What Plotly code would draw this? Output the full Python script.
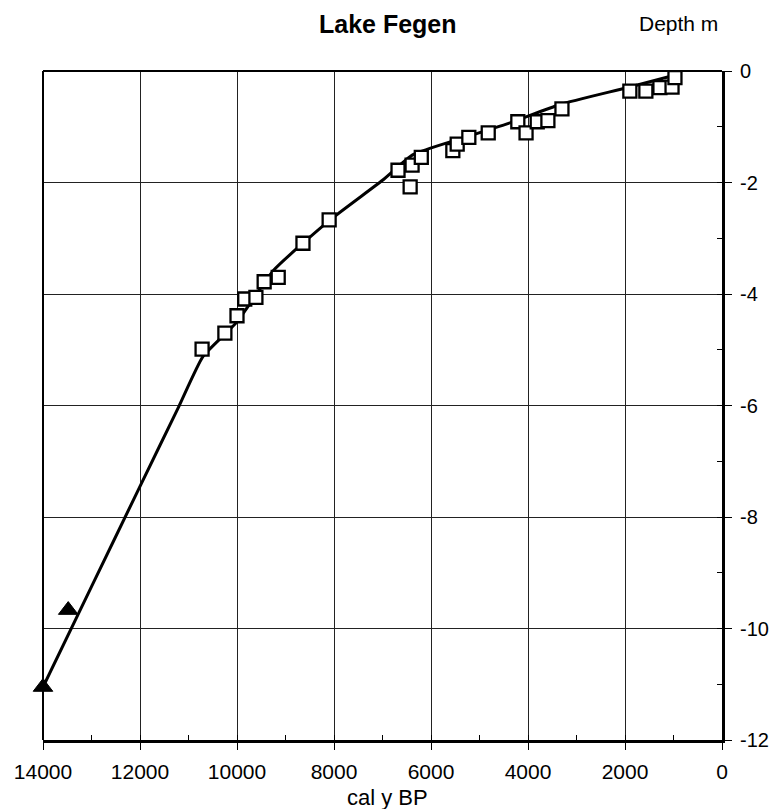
import plotly.graph_objects as go

# ---- data ----
sq_age = [10720, 10250, 10000, 9840, 9610, 9440, 9150, 8640, 8100, 6680, 6430, 6390,
          6200, 5550, 5460, 5220, 4820, 4210, 4040, 3810, 3590, 3300, 1900, 1570,
          1280, 1030, 970]
sq_depth = [-4.99, -4.70, -4.39, -4.09, -4.06, -3.78, -3.70, -3.09, -2.67, -1.78, -2.08,
            -1.69, -1.55, -1.43, -1.31, -1.19, -1.11, -0.91, -1.11, -0.91, -0.89, -0.68,
            -0.36, -0.36, -0.30, -0.29, -0.12]

tri_age = [14000, 13480]
tri_depth = [-11.05, -9.67]

model_age = [14000, 13000, 12000, 11200, 10700, 10000, 9240, 8080, 7000, 6370, 5340,
             4370, 3340, 1960, 1000]
model_depth = [-11.05, -9.25, -7.45, -6.02, -5.12, -4.50, -3.57, -2.67, -1.96, -1.50,
               -1.20, -0.93, -0.60, -0.30, -0.08]

x_ticks = [14000, 12000, 10000, 8000, 6000, 4000, 2000, 0]
x_ticktext = ["14000", "12000", "10000", "8000", "6000", "4000", "2000", "0"]
y_ticks = [0, -2, -4, -6, -8, -10, -12]
y_ticktext = ["0", "-2", "-4", "-6", "-8", "-10", "-12"]

FONT = "Liberation Sans, Arial, sans-serif"

fig = go.Figure()
fig.add_trace(go.Scatter(x=model_age, y=model_depth, mode="lines",
                         line=dict(color="black", width=3, shape="spline", smoothing=0.5),
                         showlegend=False, hoverinfo="skip"))
fig.add_trace(go.Scatter(x=sq_age, y=sq_depth, mode="markers",
                         marker=dict(symbol="square", size=13, color="white",
                                     line=dict(color="black", width=2.3)),
                         showlegend=False, cliponaxis=False))
fig.add_trace(go.Scatter(x=tri_age, y=tri_depth, mode="markers",
                         marker=dict(symbol="triangle-up", size=17, color="black",
                                     line=dict(color="black", width=1)),
                         showlegend=False, cliponaxis=False))

fig.update_layout(
    width=773, height=809,
    margin=dict(l=43, r=51, t=71, b=69),
    paper_bgcolor="white", plot_bgcolor="white",
    font=dict(family=FONT, color="black", size=21),
    xaxis=dict(range=[14000, 0], tickvals=x_ticks, ticktext=x_ticktext,
               showgrid=True, gridcolor="#222", gridwidth=1,
               showline=True, linecolor="black", linewidth=3,
               ticks="outside", ticklen=7, tickwidth=1.2, tickcolor="black",
               minor=dict(dtick=1000, tick0=0, ticks="inside", ticklen=5,
                          tickcolor="black", tickwidth=1.2, showgrid=False),
               zeroline=False, tickfont=dict(size=21), automargin=False,
               ticklabelstandoff=4),
    yaxis=dict(range=[-12, 0], side="right", tickvals=y_ticks, ticktext=y_ticktext,
               showgrid=True, gridcolor="#222", gridwidth=1,
               showline=True, linecolor="black", linewidth=3,
               ticks="outside", ticklen=7, tickwidth=1.2, tickcolor="black",
               minor=dict(dtick=1, tick0=0, ticks="inside", ticklen=5,
                          tickcolor="black", tickwidth=1.2, showgrid=False),
               zeroline=False, tickfont=dict(size=20), ticklabelstandoff=4,
               automargin=False),
    shapes=[
        dict(type="line", xref="paper", yref="paper", x0=0, x1=1, y0=1, y1=1,
             line=dict(color="black", width=2)),
        dict(type="line", xref="paper", yref="paper", x0=0, x1=0, y0=0, y1=1,
             line=dict(color="black", width=2)),
    ],
    annotations=[
        dict(text="<b>Lake Fegen</b>", xref="paper", yref="paper",
             x=(387.5 - 43) / 679, y=(71 - 24) / 669 + 1, xanchor="center", yanchor="middle",
             showarrow=False, font=dict(size=25, family=FONT)),
        dict(text="Depth m", xref="paper", yref="paper",
             x=(678 - 43) / 679, y=(71 - 23) / 669 + 1, xanchor="center", yanchor="middle",
             showarrow=False, font=dict(size=21, family=FONT)),
        dict(text="cal y BP", xref="paper", yref="paper",
             x=(387 - 43) / 679, y=(740 - 797) / 669, xanchor="center", yanchor="middle",
             showarrow=False, font=dict(size=22, family=FONT)),
    ],
)

fig.write_html("out.html")
